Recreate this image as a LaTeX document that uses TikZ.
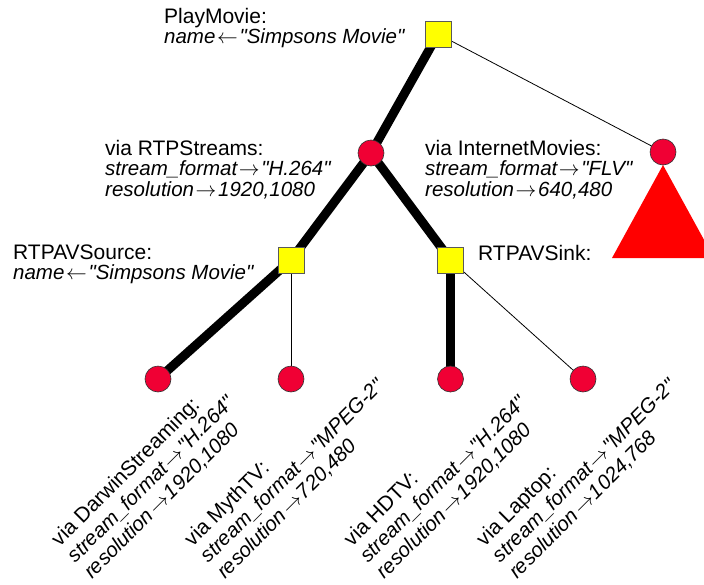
\documentclass[tikz,border=0pt]{standalone}
\usepackage{fontspec}
\setmainfont{Liberation Sans}[Ligatures=TeXOff]
\newcommand{\lto}{\kern0.08em$\rightarrow$\kern0.08em}
\newcommand{\lfrom}{\kern0.08em$\leftarrow$\kern0.08em}
\newcommand{\attr}[1]{{\fontsize{20.5}{20.5}\selectfont\itshape #1}}
\definecolor{nodered}{RGB}{240,0,52}
\definecolor{boxyellow}{RGB}{255,255,0}
\begin{document}
\begin{tikzpicture}[x=1pt,y=-1pt,
  every node/.style={font=\fontsize{21}{20.5}\selectfont},
  choice/.style={circle,draw=black!80,line width=0.6pt,fill=nodered,minimum size=26pt,inner sep=0pt},
  task/.style={rectangle,draw=black!65,line width=0.6pt,fill=boxyellow,minimum size=26pt,inner sep=0pt},
  lbl/.style={align=left,inner sep=0pt,anchor=base west},
  rlbl/.style={lbl,rotate=45,font=\fontsize{21}{23}\selectfont},
  heavy/.style={line width=9pt},
  light/.style={line width=0.8pt}]
\useasboundingbox (0,0) rectangle (704,584);

% sub-tree of the alternative method
\fill[red] (663,165) -- (612,258) -- (714,258) -- cycle;

% coordinates of the nodes
\coordinate (cpm) at (438,34);
\coordinate (crtp) at (371,153);
\coordinate (cinet) at (663,152);
\coordinate (csrc) at (291,260);
\coordinate (csink) at (450.5,260);
\coordinate (cd) at (158,379);
\coordinate (cm) at (291,379);
\coordinate (ch) at (450.5,379);
\coordinate (cl) at (583,379);

% edges, drawn centre to centre below the nodes
\draw[heavy] (cpm) -- (crtp);
\draw[light] (cpm) -- (cinet);
\draw[heavy] (crtp) -- (csrc);
\draw[heavy] (crtp) -- (csink);
\draw[heavy] (csrc) -- (cd);
\draw[light] (csrc) -- (cm);
\draw[heavy] (csink) -- (ch);
\draw[light] (csink) -- (cl);

% nodes
\node[task] (pm) at (cpm) {};
\node[choice] (rtp) at (crtp) {};
\node[choice] (inet) at (cinet) {};
\node[task] (src) at (csrc) {};
\node[task] (sink) at (csink) {};
\node[choice] (d) at (cd) {};
\node[choice] (m) at (cm) {};
\node[choice] (h) at (ch) {};
\node[choice] (l) at (cl) {};

% labels of tasks and methods (anchored at the baseline of the last line)
\node[lbl] (tpm) at (164,43.5) {PlayMovie:\\ \attr{name\lfrom"Simpsons Movie"}};
\node[lbl] (trtp) at (105,196) {via RTPStreams:\\ \attr{stream\_format\lto"H.264"}\\ \attr{resolution\lto1920,1080}};
\node[lbl] (tinet) at (425,196) {via InternetMovies:\\ \attr{stream\_format\lto"FLV"}\\ \attr{resolution\lto640,480}};
\node[lbl] (tsrc) at (13,279.5) {RTPAVSource:\\ \attr{name\lfrom"Simpsons Movie"}};
\node[lbl] (tsink) at (478,260) {RTPAVSink:};

% labels of the devices, turned by 45 degrees
\node[rlbl] (td) at (92,580) {via DarwinStreaming:\\ \attr{stream\_format\lto"H.264"}\\ \attr{resolution\lto1920,1080}};
\node[rlbl] (tm) at (225,580) {via MythTV:\\ \attr{stream\_format\lto"MPEG-2"}\\ \attr{resolution\lto720,480}};
\node[rlbl] (th) at (384.5,580) {via HDTV:\\ \attr{stream\_format\lto"H.264"}\\ \attr{resolution\lto1920,1080}};
\node[rlbl] (tl) at (517,580) {via Laptop:\\ \attr{stream\_format\lto"MPEG-2"}\\ \attr{resolution\lto1024,768}};
\end{tikzpicture}
\end{document}
